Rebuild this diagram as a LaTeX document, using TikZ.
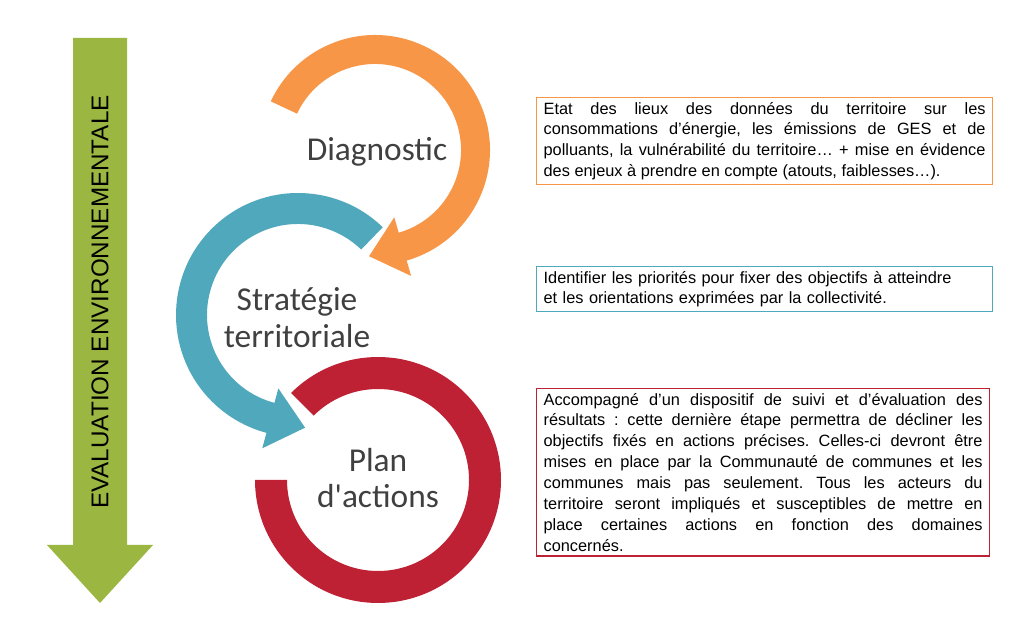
\documentclass[tikz,border=0pt]{standalone}
\usepackage{fontspec}
\setmainfont{Liberation Sans}
\newfontfamily\labfont{Carlito}
\usetikzlibrary{calc}
\frenchspacing
\definecolor{orx}{RGB}{247,150,70}
\definecolor{tlx}{RGB}{80,168,188}
\definecolor{rdx}{RGB}{190,32,52}
\definecolor{gnx}{RGB}{155,183,65}
\definecolor{txx}{RGB}{64,64,64}
\tikzset{
    descbox/.style={draw,line width=0.7pt,anchor=north west,inner xsep=4pt,inner ysep=2.5pt,
        font=\fontsize{9.3}{11.9}\selectfont,align=justify},
    steplab/.style={txx,font=\labfont\fontsize{19}{21}\selectfont,align=center}
}
\begin{document}
\begin{tikzpicture}[x=0.02cm,y=0.02cm]
    \useasboundingbox (0,0) rectangle (1026,638);
    % fleche evaluation
    \fill [gnx] (73,600) -- (127,600) -- (127,93) -- (153,93) -- (100,35)
        -- (47,93) -- (73,93) -- cycle;
    \node (evalu) [rotate=90,font=\fontsize{13.8}{15}\selectfont] at (100,336)
        {EVALUATION ENVIRONNEMENTALE};
    % anneaux
    \coordinate (cdiag) at (375,488);
    \coordinate (cstrat) at (298,323);
    \coordinate (cplan) at (378,158);
    \fill [rdx] ($(cplan)+(135:123)$) arc [start angle=135,end angle=-180,radius=123]
        -- ($(cplan)+(180:91)$) arc [start angle=-180,end angle=135,radius=91] -- cycle;
    \fill [orx] ($(cdiag)+(155:115)$) arc [start angle=155,end angle=-74,radius=115]
        -- ($(cdiag)+(-74:131)$) -- ($(cdiag)+(-74:100.5)+(-164:35)$)
        -- ($(cdiag)+(-74:70)$) -- ($(cdiag)+(-74:86)$)
        arc [start angle=-74,end angle=155,radius=86] -- cycle;
    \fill [tlx] ($(cstrat)+(46:122)$) arc [start angle=46,end angle=255,radius=122]
        -- ($(cstrat)+(255:138)$) -- ($(cstrat)+(255:107)+(345:36)$)
        -- ($(cstrat)+(255:76)$) -- ($(cstrat)+(255:91)$)
        arc [start angle=255,end angle=46,radius=91] -- cycle;
    \node (diag) [steplab] at (377,486) {Diagnostic};
    \node (strat) [steplab] at (297,320) {Stratégie\\territoriale};
    \node (plan) [steplab] at (378,160) {Plan\\d'actions};
    % descriptions
    \node (ddiag) [descbox,orx,text width=8.84cm] at (536,541)
        {\color{black}Etat des lieux des données du territoire sur les\linebreak
        consommations d’énergie, les émissions de GES et de\linebreak
        polluants, la vulnérabilité du territoire… + mise en évidence\linebreak
        des enjeux à prendre en compte (atouts, faiblesses…).};
    \node (dstrat) [descbox,tlx,text width=8.84cm,align=left] at (536,372)
        {\color{black}Identifier les priorités pour fixer des objectifs à atteindre\\
        et les orientations exprimées par la collectivité.};
    \node (dplan) [descbox,rdx,text width=8.78cm] at (536,250)
        {\color{black}Accompagné d’un dispositif de suivi et d’évaluation des\linebreak
        résultats : cette dernière étape permettra de décliner les\linebreak
        objectifs fixés en actions précises. Celles-ci devront être\linebreak
        mises en place par la Communauté de communes et les\linebreak
        communes mais pas seulement. Tous les acteurs du\linebreak
        territoire seront impliqués et susceptibles de mettre en\linebreak
        place certaines actions en fonction des domaines\linebreak
        concernés.};
\end{tikzpicture}
\end{document}
